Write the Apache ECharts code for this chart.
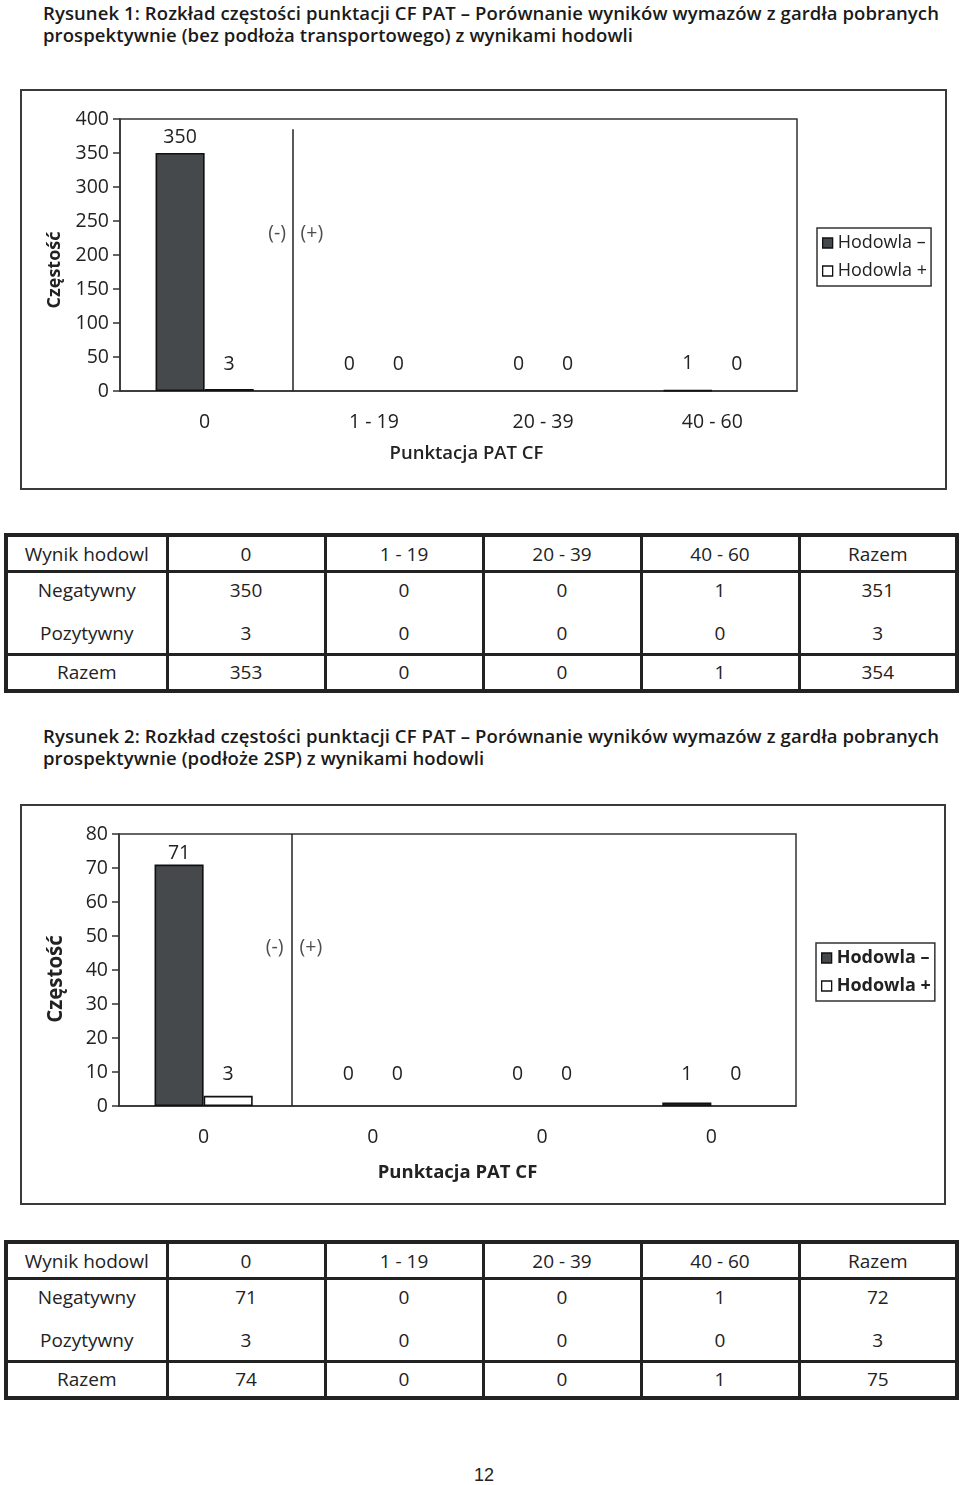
<!DOCTYPE html>
<html><head><meta charset="utf-8">
<script src="https://cdn.jsdelivr.net/npm/echarts@6/dist/echarts.min.js"></script>
<style>
body{margin:0;background:#fff;width:960px;height:1485px;position:relative;font-family:'Open Sans',sans-serif;color:#222;overflow:hidden}
.title{position:absolute;left:43px;font-weight:600;font-size:18.5px;line-height:22px;white-space:nowrap;color:#1a1a1a;letter-spacing:0.1px}
.frame{position:absolute;border:2px solid #3a3a3a;box-sizing:border-box;background:#fff}
.chart{position:absolute;left:0;top:0;right:0;bottom:0}
table.t{position:absolute;left:4px;width:951px;border-collapse:collapse;border:4px solid #222;font-size:19px;table-layout:fixed;color:#222}
table.t td{border-left:3.5px solid #222;border-right:3.5px solid #222;text-align:center;padding:0;vertical-align:middle}
table.t tr.h td{height:33px;border-bottom:3px solid #222}
table.t tr.n td{height:41px;padding-bottom:5px;box-sizing:border-box}
table.t tr.p td{height:40px}
table.t tr.r td{height:33px;border-top:3px solid #222}
.page{position:absolute;left:0;width:968px;text-align:center;top:1465px;font-family:'Liberation Sans',Arial,sans-serif;font-size:18px;color:#222}
</style></head>
<body>
<div class="title" style="top:2px">Rysunek 1: Rozkład częstości punktacji CF PAT – Porównanie wyników wymazów z gardła pobranych<br>prospektywnie (bez podłoża transportowego) z wynikami hodowli</div>
<div class="frame" style="left:20px;top:89px;width:927px;height:401px"><div id="c1" class="chart"></div></div>
<table class="t" id="tab1" style="top:533px"></table>

<div class="title" style="top:725px">Rysunek 2: Rozkład częstości punktacji CF PAT – Porównanie wyników wymazów z gardła pobranych<br>prospektywnie (podłoże 2SP) z wynikami hodowli</div>
<div class="frame" style="left:20px;top:804px;width:926px;height:401px"><div id="c2" class="chart"></div></div>
<table class="t" id="tab2" style="top:1240px"></table>

<div class="page">12</div>

<script>
// ---------- data ----------
const seriesNames = ['Hodowla –', 'Hodowla +'];
const yAxisName = 'Częstość';
const xAxisName = 'Punktacja PAT CF';

const categories1 = ['0', '1 - 19', '20 - 39', '40 - 60'];
const negative1 = [350, 0, 0, 1];
const positive1 = [3, 0, 0, 0];
const yTicks1 = { min: 0, max: 400, interval: 50 };

const categories2 = ['0', '0', '0', '0'];
const negative2 = [71, 0, 0, 1];
const positive2 = [3, 0, 0, 0];
const yTicks2 = { min: 0, max: 80, interval: 10 };

// divider (category-boundary units) and the (-) / (+) annotations
const divider1 = { x: 1.02, top: 385 };
const divider2 = { x: 1.02, top: 80 };
const annotations1 = [{ x: 0.928, y: 232, text: '(-)' }, { x: 1.134, y: 232, text: '(+)' }];
const annotations2 = [{ x: 0.92, y: 46.5, text: '(-)' }, { x: 1.134, y: 46.5, text: '(+)' }];

// tables
const tableHeader = ['Wynik hodowl', '0', '1 - 19', '20 - 39', '40 - 60', 'Razem'];
const rowLabels = ['Negatywny', 'Pozytywny', 'Razem'];
const table1Neg = [350, 0, 0, 1, 351];
const table1Pos = [3, 0, 0, 0, 3];
const table1Tot = [353, 0, 0, 1, 354];
const table2Neg = [71, 0, 0, 1, 72];
const table2Pos = [3, 0, 0, 0, 3];
const table2Tot = [74, 0, 0, 1, 75];

// ---------- tables ----------
function buildTable(el, neg, pos, tot) {
  let html = '<colgroup><col style="width:161px">' + '<col style="width:158px">'.repeat(5) + '</colgroup>';
  html += '<tr class="h">' + tableHeader.map(h => '<td>' + h + '</td>').join('') + '</tr>';
  html += '<tr class="n"><td>' + rowLabels[0] + '</td>' + neg.map(v => '<td>' + v + '</td>').join('') + '</tr>';
  html += '<tr class="p"><td>' + rowLabels[1] + '</td>' + pos.map(v => '<td>' + v + '</td>').join('') + '</tr>';
  html += '<tr class="r"><td>' + rowLabels[2] + '</td>' + tot.map(v => '<td>' + v + '</td>').join('') + '</tr>';
  el.innerHTML = html;
}
buildTable(document.getElementById('tab1'), table1Neg, table1Pos, table1Tot);
buildTable(document.getElementById('tab2'), table2Neg, table2Pos, table2Tot);

// ---------- charts ----------
const DARK = '#45494c';
const INK = '#222';
function makeOption(cfg) {
  const gridH = 272;
  const pxPerUnit = gridH / cfg.yTicks.max;
  const barData = (vals) => vals.map(v => ({
    value: v,
    itemStyle: v === 0 ? { borderWidth: 0 } : undefined,
    label: { distance: v / cfg.yTicks.max > 0.5 ? cfg.bigDist : Math.max(2, cfg.smallDist - v * pxPerUnit) }
  }));
  const barLabel = { show: true, position: 'top', fontSize: 19.5, color: INK, fontFamily: 'Open Sans' };
  return {
    animation: false,
    textStyle: { fontFamily: 'Open Sans' },
    grid: { left: cfg.gridLeft, top: 28, width: 677, height: gridH, show: true, borderColor: '#333', borderWidth: 1.5 },
    legend: {
      orient: 'vertical', left: cfg.legendLeft, top: 137,
      data: seriesNames.map(n => ({ name: n, icon: 'rect' })),
      itemWidth: 10, itemHeight: 10, itemGap: 10,
      backgroundColor: '#fff', borderColor: '#333', borderWidth: 1.5, borderRadius: 0,
      padding: [6, 4, 6, 5],
      textStyle: { fontSize: 18, color: INK, fontWeight: cfg.legendWeight },
      itemStyle: { borderColor: '#111', borderWidth: 1.3 },
      selectedMode: false
    },
    xAxis: [{
      type: 'category', data: cfg.categories,
      axisLine: { lineStyle: { color: '#333', width: 1.5 } },
      axisTick: { length: 6, lineStyle: { color: '#333', width: 1.5 } },
      axisLabel: { fontSize: 19.5, color: INK, margin: 21 },
      name: xAxisName, nameLocation: 'middle', nameGap: cfg.xNameGap,
      nameTextStyle: { fontSize: cfg.xNameSize, fontWeight: cfg.xNameWeight, color: INK, padding: [0, 0, 0, cfg.xNameShift] }
    }, {
      type: 'value', min: 0, max: 4, show: false
    }],
    yAxis: {
      type: 'value', min: cfg.yTicks.min, max: cfg.yTicks.max, interval: cfg.yTicks.interval,
      axisLine: { show: true, lineStyle: { color: '#333', width: 1.5 } },
      axisTick: { show: true, length: 7, lineStyle: { color: '#333', width: 1.5 } },
      splitLine: { show: false },
      axisLabel: { fontSize: 19.5, color: INK, margin: 11 },
      name: yAxisName, nameLocation: 'middle', nameGap: cfg.yNameGap, nameRotate: 90,
      nameTextStyle: { fontSize: cfg.yNameSize, fontWeight: 'bold', color: INK, padding: [0, cfg.yNameShift, 0, 0] }
    },
    series: [{
      name: seriesNames[0], type: 'bar', data: barData(cfg.negative),
      barGap: '0%', barCategoryGap: '42%',
      itemStyle: { color: DARK, borderColor: '#111', borderWidth: 1.6 },
      label: barLabel
    }, {
      name: seriesNames[1], type: 'bar', data: barData(cfg.positive),
      itemStyle: { color: '#fff', borderColor: '#111', borderWidth: 1.6 },
      label: barLabel
    }, {
      type: 'scatter', xAxisIndex: 1, silent: true,
      symbolSize: 1, itemStyle: { color: 'rgba(0,0,0,0)' },
      data: cfg.annotations.map(a => ({ value: [a.x, a.y], label: { formatter: a.text } })),
      label: { show: true, position: 'inside', fontSize: 19.5, color: INK },
      markLine: {
        silent: true, symbol: 'none', label: { show: false },
        lineStyle: { color: INK, type: 'solid', width: 1.5 },
        data: [[{ coord: [cfg.divider.x, 0] }, { coord: [cfg.divider.x, cfg.divider.top] }]]
      }
    }]
  };
}

const chart1 = echarts.init(document.getElementById('c1'), null, { renderer: 'canvas' });
chart1.setOption(makeOption({
  categories: categories1, negative: negative1, positive: positive1, yTicks: yTicks1,
  divider: divider1, annotations: annotations1,
  gridLeft: 98, legendLeft: 795, legendWeight: 'normal',
  bigDist: 6, smallDist: 17,
  xNameGap: 53, xNameSize: 18.5, xNameWeight: 600, xNameShift: 16,
  yNameGap: 56, yNameSize: 18, yNameShift: 30
}));

const chart2 = echarts.init(document.getElementById('c2'), null, { renderer: 'canvas' });
chart2.setOption(makeOption({
  categories: categories2, negative: negative2, positive: positive2, yTicks: yTicks2,
  divider: divider2, annotations: annotations2,
  gridLeft: 97, legendLeft: 794, legendWeight: 'bold',
  bigDist: 1, smallDist: 22,
  xNameGap: 57, xNameSize: 18.5, xNameWeight: 'bold', xNameShift: 0,
  yNameGap: 52, yNameSize: 20.5, yNameShift: 18
}));
</script>
</body></html>
